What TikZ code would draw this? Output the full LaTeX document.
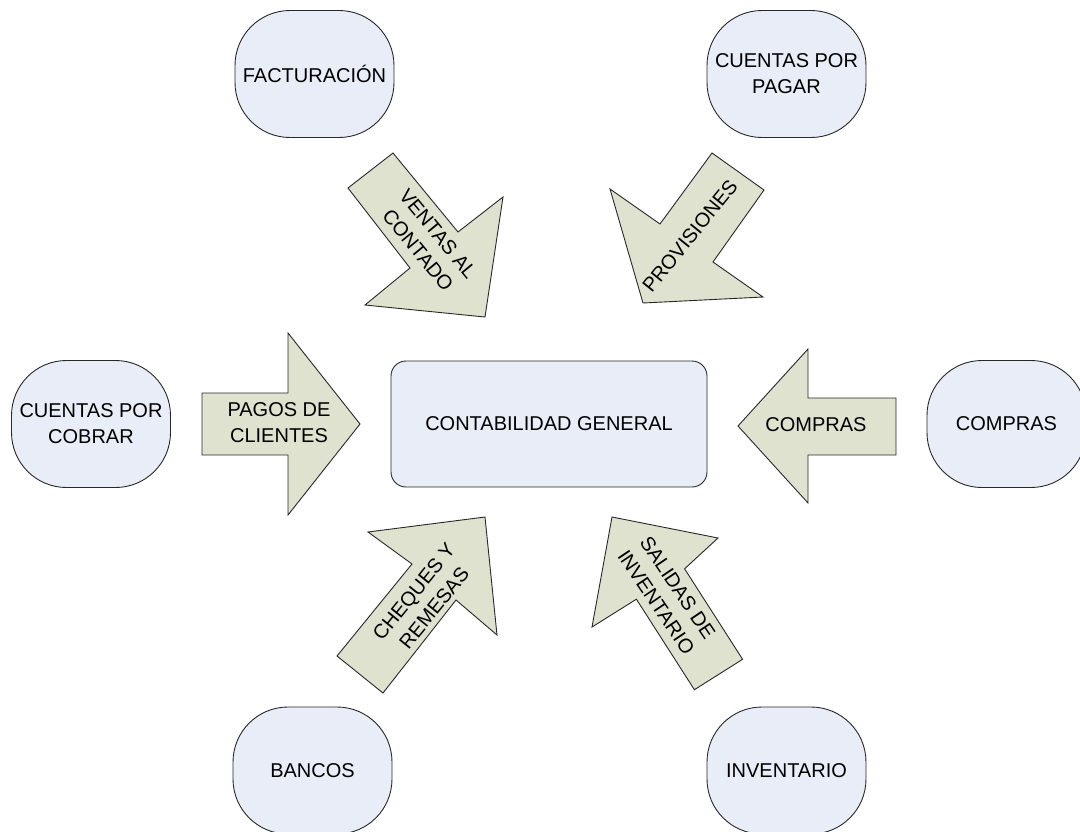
\documentclass[tikz,border=0pt]{standalone}
\usepackage{fontspec}
\setmainfont{Liberation Sans}
\begin{document}
\definecolor{boxfill}{RGB}{232,237,247}
\definecolor{arrowfill}{RGB}{222,226,206}
\definecolor{edge}{RGB}{40,40,40}
\begin{tikzpicture}[x=1pt,y=-1pt,
  every node/.style={font=\fontsize{20}{26}\selectfont, text=black, align=center},
  module/.style={draw=edge, line width=0.9pt, fill=boxfill, rounded corners=55pt,
    minimum width=159pt, minimum height=127pt, inner sep=0pt},
  core/.style={draw=edge, line width=0.9pt, fill=boxfill, rounded corners=15pt,
    minimum width=316pt, minimum height=126pt, inner sep=0pt},
  flow/.style={draw=edge, line width=0.9pt, fill=arrowfill, line join=miter},
  flowlabel/.style={inner sep=0pt}]
\useasboundingbox (0,0) rectangle (1080,831);

% surrounding modules
\node[module] (fact) at (314.5,74) {FACTURACIÓN};
\node[module] (cxp)  at (786.5,74) {CUENTAS POR\\PAGAR};
\node[module] (cxc)  at (91,424)   {CUENTAS POR\\COBRAR};
\node[module] (comp) at (1006.5,424) {COMPRAS};
\node[module] (banc) at (312.5,770.5) {BANCOS};
\node[module] (inv)  at (786.5,770.5) {INVENTARIO};

% central ledger
\node[core] (cg) at (549,424) {CONTABILIDAD GENERAL};

% block arrows feeding the ledger
\draw[flow] (348,188) -- (393,153) -- (458,232) -- (503,197) -- (485,317)
  -- (365,305) -- (410,268) -- cycle;
\node[flowlabel, rotate=-50.5] (ventas) at (428,242) {VENTAS AL\\CONTADO};

\draw[flow] (712,153) -- (764,190) -- (713,262) -- (763,297) -- (643,303)
  -- (610,189) -- (660,224) -- cycle;
\node[flowlabel, rotate=51] (prov) at (690,236) {PROVISIONES};

\draw[flow] (202,393) -- (288,393) -- (288,333) -- (360,424) -- (288,515)
  -- (288,455) -- (202,455) -- cycle;
\node[flowlabel] (pagos) at (279,423) {PAGOS DE\\CLIENTES};

\draw[flow] (896,398) -- (808,398) -- (808,349) -- (738,426) -- (808,503)
  -- (808,455) -- (896,455) -- cycle;
\node[flowlabel] (compras) at (816,425) {COMPRAS};

\draw[flow] (337,656) -- (383,693) -- (456,600) -- (497,635) -- (485,517)
  -- (368,532) -- (412,564) -- cycle;
\node[flowlabel, rotate=51] (cheq) at (424,600) {CHEQUES Y\\REMESAS};

\draw[flow] (694.4,689.7) -- (742.6,659.3) -- (684.6,568.8) -- (718,538)
  -- (612,517) -- (592,627) -- (636.4,599.2) -- cycle;
\node[flowlabel, rotate=-56] (sal) at (667,595) {SALIDAS DE\\INVENTARIO};
\end{tikzpicture}
\end{document}
